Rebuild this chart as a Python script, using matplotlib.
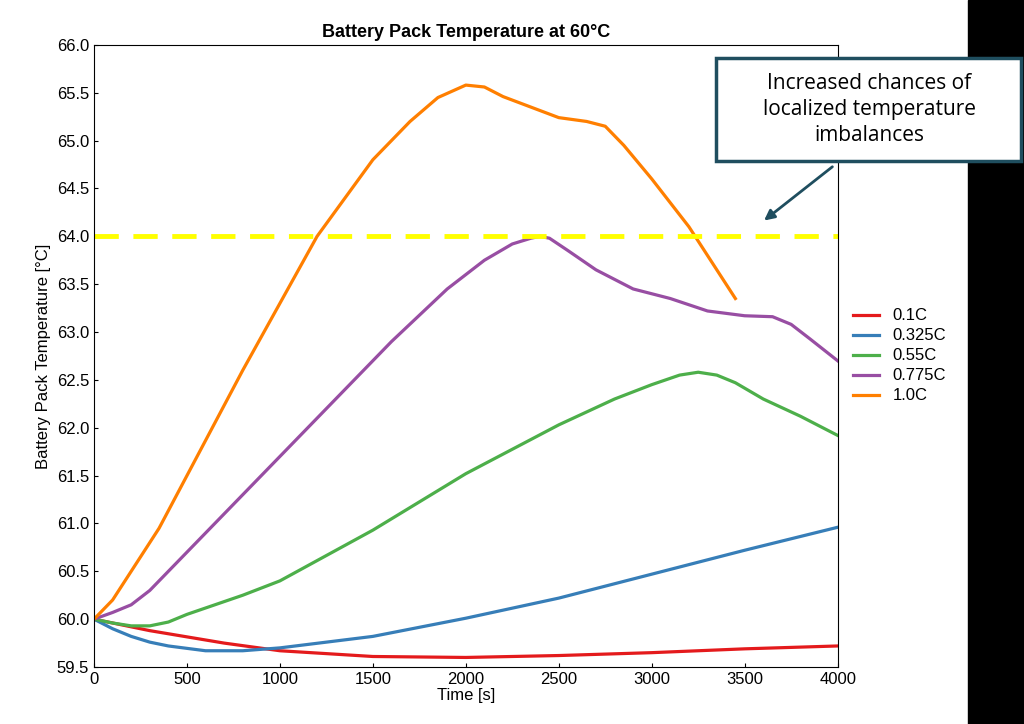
import matplotlib
matplotlib.use("Agg")
import matplotlib.pyplot as plt
from matplotlib.patches import Rectangle, FancyArrowPatch

labels = ["0.1C", "0.325C", "0.55C", "0.775C", "1.0C"]
colors = ["#e41a1c", "#377eb8", "#4daf4a", "#984ea3", "#ff7f00"]

t_red = [0, 300, 700, 1000, 1500, 2000, 2500, 3000, 3500, 4000]
v_red = [60, 59.88, 59.75, 59.67, 59.61, 59.6, 59.62, 59.65, 59.69, 59.72]
t_blue = [0, 100, 200, 300, 400, 600, 800, 1000, 1500, 2000, 2500, 3000, 3500, 4000]
v_blue = [60, 59.9, 59.82, 59.76, 59.72, 59.67, 59.67, 59.7, 59.82, 60.01, 60.22, 60.47, 60.72, 60.96]
t_green = [0, 100, 200, 300, 400, 500, 800, 1000, 1500, 2000, 2500, 2800, 3000, 3150, 3250, 3350, 3450, 3600, 3800, 4000]
v_green = [60, 59.96, 59.93, 59.93, 59.97, 60.05, 60.25, 60.4, 60.93, 61.52, 62.03, 62.3, 62.45, 62.55, 62.58, 62.55, 62.47, 62.3, 62.12, 61.92]
t_purple = [0, 100, 200, 300, 500, 800, 1000, 1300, 1600, 1900, 2100, 2250, 2350, 2400, 2450, 2550, 2700, 2900, 3100, 3300, 3500, 3650, 3750, 3850, 4000]
v_purple = [60, 60.07, 60.15, 60.3, 60.7, 61.3, 61.7, 62.3, 62.9, 63.45, 63.75, 63.92, 63.98, 64.0, 63.98, 63.85, 63.65, 63.45, 63.35, 63.22, 63.17, 63.16, 63.08, 62.93, 62.7]
t_orange = [0, 100, 200, 350, 500, 800, 1000, 1200, 1500, 1700, 1850, 2000, 2100, 2200, 2350, 2500, 2650, 2750, 2850, 3000, 3200, 3300, 3450]
v_orange = [60, 60.2, 60.5, 60.95, 61.5, 62.6, 63.3, 64.0, 64.8, 65.2, 65.45, 65.58, 65.56, 65.46, 65.35, 65.24, 65.2, 65.15, 64.95, 64.6, 64.1, 63.8, 63.35]

times = [t_red, t_blue, t_green, t_purple, t_orange]
vals = [v_red, v_blue, v_green, v_purple, v_orange]
threshold = 64.0

plt.rcParams['font.family'] = ['Liberation Sans', 'DejaVu Sans']
fig = plt.figure(figsize=(10.24, 7.24), dpi=100)
ax = fig.add_axes([0.0918, 0.0787, 0.7262, 0.8593])
for t, v, c, l in zip(times, vals, colors, labels):
    ax.plot(t, v, color=c, lw=2.3, label=l, solid_joinstyle="round")
ax.axhline(threshold, color="#ffff00", lw=3.5, ls=(0, (5, 3)))
ax.set_xlim(0, 4000)
ax.set_ylim(59.5, 66.0)
ax.set_xticks(range(0, 4001, 500))
ax.set_yticks([59.5 + 0.5 * i for i in range(14)])
ax.set_yticklabels([f"{59.5 + 0.5 * i:.1f}" for i in range(14)])
ax.tick_params(labelsize=12, direction="in", length=3)
ax.set_xlabel("Time [s]", fontsize=12, labelpad=1)
ax.set_ylabel("Battery Pack Temperature [°C]", fontsize=12)
ax.set_title("Battery Pack Temperature at 60°C", fontsize=13, fontweight="bold", pad=6)
ax.legend(loc="center left", bbox_to_anchor=(1.0, 0.5), frameon=False, fontsize=12,
          handlelength=1.6, labelspacing=0.3)

fig.patches.append(Rectangle((0.945, 0), 0.055, 1, transform=fig.transFigure, color="black", zorder=0))
fig.patches.append(Rectangle((0.699, 0.778), 0.298, 0.142, transform=fig.transFigure,
                             fc="white", ec="#1f4e5f", lw=2.5, zorder=5))
fig.text(0.849, 0.849, "Increased chances of\nlocalized temperature\nimbalances", ha="center", va="center",
         fontsize=15, linespacing=1.3, family=["Open Sans", "DejaVu Sans"], zorder=6)
fig.patches.append(FancyArrowPatch((0.815, 0.772), (0.744, 0.693), transform=fig.transFigure,
                                   arrowstyle="-|>", mutation_scale=15, color="#1f4e5f", lw=2))
fig.savefig("out.png", dpi=100)
